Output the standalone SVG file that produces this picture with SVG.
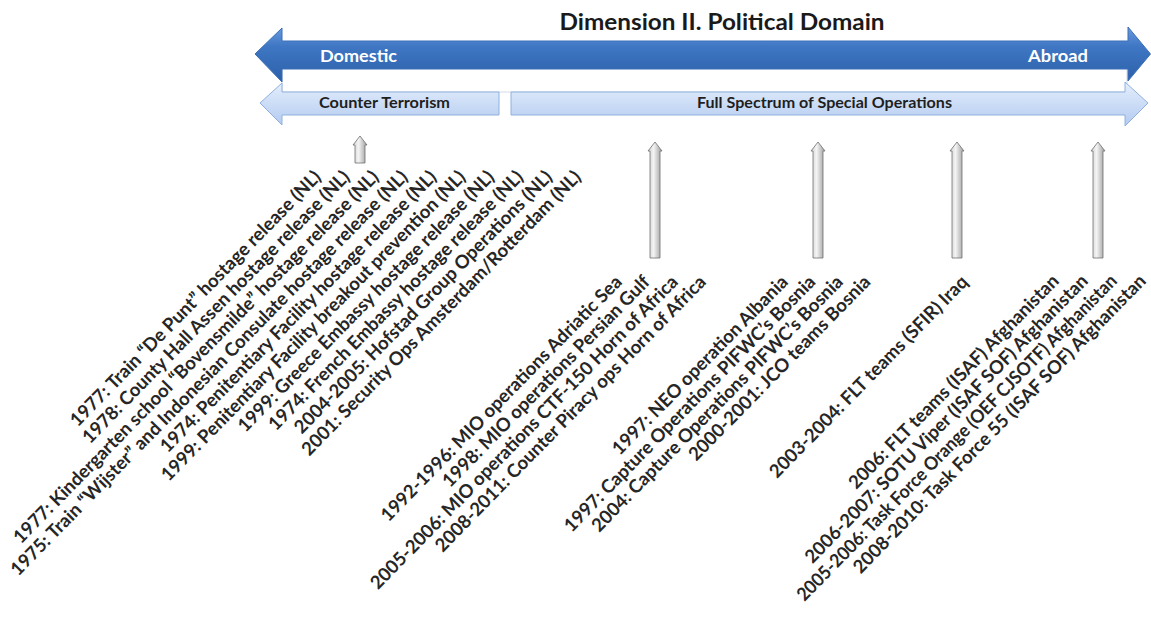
<svg xmlns="http://www.w3.org/2000/svg" width="1151" height="618" viewBox="0 0 1151 618">
  <defs>
    <linearGradient id="gDark" x1="0" y1="0" x2="0" y2="1">
      <stop offset="0" stop-color="#6a9ade"/>
      <stop offset="0.35" stop-color="#3f77c4"/>
      <stop offset="1" stop-color="#2c5fa8"/>
    </linearGradient>
    <linearGradient id="gLight" x1="0" y1="0" x2="0" y2="1">
      <stop offset="0" stop-color="#e4eefc"/>
      <stop offset="1" stop-color="#b3cbf0"/>
    </linearGradient>
    <linearGradient id="gGrey" x1="0" y1="0" x2="1" y2="0">
      <stop offset="0" stop-color="#cfcfcf"/>
      <stop offset="0.4" stop-color="#f4f4f4"/>
      <stop offset="1" stop-color="#9a9a9a"/>
    </linearGradient>
    <!-- small upward block arrow, tip at 0,0 -->
    <path id="upShort" d="M0,0 L7,9 L5,9 L5,27 L-5,27 L-5,9 L-7,9 Z"/>
    <path id="upLong" d="M0,0 L7,9 L5,9 L5,116 L-5,116 L-5,9 L-7,9 Z"/>
  </defs>
  <style>
    .title { font-family: Lato, "Liberation Sans", sans-serif; font-weight: bold; font-size: 23px; fill: #1a1a1a; }
    .dir { font-family: Lato, "Liberation Sans", sans-serif; font-weight: bold; font-size: 17px; fill: #ffffff; }
    .band { font-family: Lato, "Liberation Sans", sans-serif; font-weight: bold; font-size: 15px; fill: #1f1f1f; }
    .lbl { font-family: Lato, "Liberation Sans", sans-serif; font-weight: bold; font-size: 18.5px; fill: #262626; text-anchor: end; }
    .dark { fill: url(#gDark); stroke: #3a6fb8; stroke-width: 1; }
    .light { fill: url(#gLight); stroke: #8fb0de; stroke-width: 1; }
    .pin { fill: url(#gGrey); stroke: #6e6e6e; stroke-width: 0.8; }
  </style>

  <text class="title" x="722" y="30" text-anchor="middle" textLength="325" lengthAdjust="spacingAndGlyphs">Dimension II. Political Domain</text>

  <!-- main axis: Domestic / Abroad -->
  <g id="axis">
    <rect x="282" y="68" width="845" height="24" fill="#ffffff" stroke="#d3dbe6" stroke-width="1"/>
    <path class="dark" d="M255,54 L282,28 L282,41 L1128,41 L1128,27 L1150.5,54 L1128,81 L1128,69 L282,69 L282,82 Z"/>
    <text class="dir" x="320" y="62" textLength="77" lengthAdjust="spacingAndGlyphs">Domestic</text>
    <text class="dir" x="1028" y="62" textLength="60" lengthAdjust="spacingAndGlyphs">Abroad</text>
  </g>

  <!-- mission bands -->
  <g id="counter-terrorism">
    <path class="light" d="M260,103 L282,83 L282,92 L499,92 L499,115 L282,115 L282,125 Z"/>
    <text class="band" x="319" y="108" textLength="131" lengthAdjust="spacingAndGlyphs">Counter Terrorism</text>
  </g>
  <g id="full-spectrum">
    <path class="light" d="M511,92 L1125,92 L1125,82 L1148,103 L1125,126 L1125,115 L511,115 Z"/>
    <text class="band" x="697" y="108" textLength="255" lengthAdjust="spacingAndGlyphs">Full Spectrum of Special Operations</text>
  </g>

  <!-- pointers from each group of operations to the band -->
  <g id="connectors">
    <use href="#upShort" class="pin" x="360" y="136"/>
    <use href="#upLong" class="pin" x="655" y="142"/>
    <use href="#upLong" class="pin" x="818" y="142"/>
    <use href="#upLong" class="pin" x="957" y="142"/>
    <use href="#upLong" class="pin" x="1098" y="142"/>
  </g>

  <g id="group-domestic-ct">
    <text class="lbl" transform="translate(322,178) rotate(-45.6)">1977: Train “De Punt” hostage release (NL)</text>
    <text class="lbl" transform="translate(350.9,178) rotate(-45.6)">1978: County Hall Assen hostage release (NL)</text>
    <text class="lbl" transform="translate(379.8,178) rotate(-45.6)">1977: Kindergarten school “Bovensmilde” hostage release (NL)</text>
    <text class="lbl" transform="translate(408.7,178) rotate(-45.6)">1975: Train “Wijster” and Indonesian Consulate hostage release (NL)</text>
    <text class="lbl" transform="translate(437.6,178) rotate(-45.6)">1974: Penitentiary Facility hostage release (NL)</text>
    <text class="lbl" transform="translate(466.5,178) rotate(-45.6)">1999: Penitentiary Facility breakout prevention (NL)</text>
    <text class="lbl" transform="translate(495.4,178) rotate(-45.6)">1999: Greece Embassy hostage release (NL)</text>
    <text class="lbl" transform="translate(524.3,178) rotate(-45.6)">1974: French Embassy hostage release (NL)</text>
    <text class="lbl" transform="translate(553.2,178) rotate(-45.6)">2004-2005: Hofstad Group Operations (NL)</text>
    <text class="lbl" transform="translate(582.1,178) rotate(-45.6)">2001: Security Ops Amsterdam/Rotterdam (NL)</text>
  </g>

  <g id="group-maritime">
    <text class="lbl" transform="translate(623,283) rotate(-45.6)">1992-1996: MIO operations Adriatic Sea</text>
    <text class="lbl" transform="translate(651,283) rotate(-45.6)">1998: MIO operations Persian Gulf</text>
    <text class="lbl" transform="translate(679,283) rotate(-45.6)">2005-2006: MIO operations CTF-150 Horn of Africa</text>
    <text class="lbl" transform="translate(707,283) rotate(-45.6)">2008-2011: Counter Piracy ops Horn of Africa</text>
  </g>

  <g id="group-balkans">
    <text class="lbl" transform="translate(789,283) rotate(-45.6)">1997: NEO operation Albania</text>
    <text class="lbl" transform="translate(816.5,283) rotate(-45.6)">1997: Capture Operations PIFWC’s Bosnia</text>
    <text class="lbl" transform="translate(844,283) rotate(-45.6)">2004: Capture Operations PIFWC’s Bosnia</text>
    <text class="lbl" transform="translate(871.5,283) rotate(-45.6)">2000-2001: JCO teams Bosnia</text>
  </g>

  <g id="group-iraq">
    <text class="lbl" transform="translate(969,283) rotate(-45.6)">2003-2004: FLT teams (SFIR) Iraq</text>
  </g>

  <g id="group-afghanistan">
    <text class="lbl" transform="translate(1060,282) rotate(-45.6)">2006: FLT teams (ISAF) Afghanistan</text>
    <text class="lbl" transform="translate(1089,282) rotate(-45.6)">2006-2007: SOTU Viper (ISAF SOF) Afghanistan</text>
    <text class="lbl" transform="translate(1118,282) rotate(-45.6)" textLength="448" lengthAdjust="spacingAndGlyphs">2005-2006: Task Force Orange (OEF CJSOTF) Afghanistan</text>
    <text class="lbl" transform="translate(1147,282) rotate(-45.6)">2008-2010: Task Force 55 (ISAF SOF) Afghanistan</text>
  </g>
</svg>
